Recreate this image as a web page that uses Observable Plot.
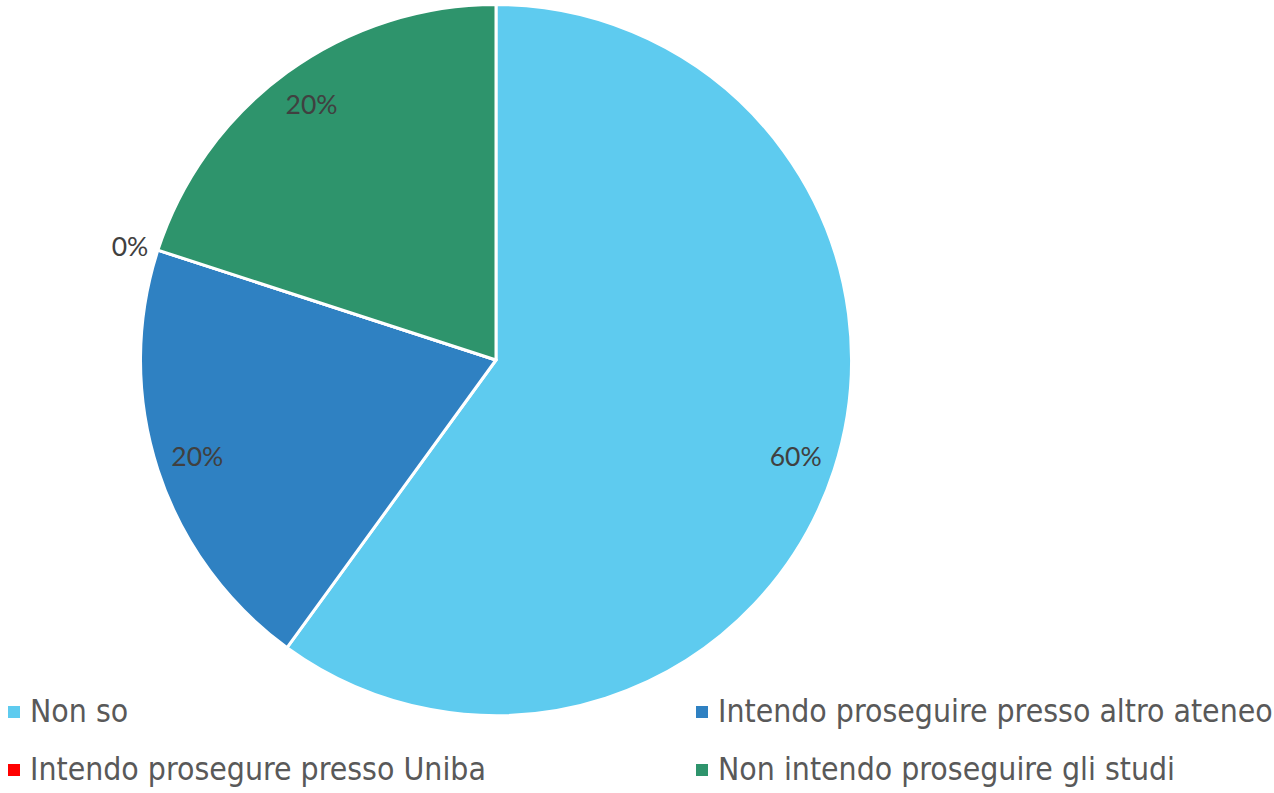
<!DOCTYPE html>
<html><head><meta charset="utf-8">
<script src="https://cdn.jsdelivr.net/npm/d3@7"></script>
<script src="https://cdn.jsdelivr.net/npm/@observablehq/plot@0.6"></script>
<style>
body{margin:0;background:#fff;}
#wrap{position:relative;width:1274px;height:793px;overflow:hidden;}
#wrap svg{position:absolute;left:0;top:0;}
.lg{position:absolute;display:flex;align-items:center;white-space:nowrap;
  font-family:"DejaVu Sans Condensed","DejaVu Sans",sans-serif;font-stretch:condensed;
  font-size:31.7px;color:#595959;line-height:1;}
.lg span.sw{display:inline-block;width:12px;height:12px;margin-right:10px;}
</style></head><body><div id="wrap"></div>
<script>
const categories = ["Non so","Intendo proseguire presso altro ateneo","Intendo prosegure presso Uniba","Non intendo proseguire gli studi"];
const values = [60, 20, 0, 20];
const labels = ["60%", "20%", "0%", "20%"];
const colors = ["#5ECBEF", "#2F81C2", "#FF0000", "#2E946C"];

const data = categories.map((c, i) => ({category: c, value: values[i], label: labels[i], color: colors[i]}));
const arcs = d3.pie().sort(null).value(d => d.value)(data);
const labelData = arcs.map(a => {
  const mid = (a.startAngle + a.endAngle) / 2;
  const k = a.data.value === 0 ? 1.03 : 0.885;
  return {...a.data, x: k * Math.sin(mid), y: k * Math.cos(mid), outside: a.data.value === 0};
});

function pieSlices(index, scales, values, dimensions, context) {
  const cx = scales.x(0), cy = scales.y(0);
  const r = scales.x(1) - scales.x(0);
  const arc = d3.arc().innerRadius(0).outerRadius(r);
  const g = d3.create("svg:g").attr("transform", `translate(${cx},${cy})`);
  g.selectAll("path").data(arcs).join("path")
    .attr("d", arc)
    .attr("fill", d => scales.color ? scales.color(d.data.category) : d.data.color)
    .attr("stroke", "#fff").attr("stroke-width", 3).attr("stroke-linejoin", "round");
  return g.node();
}

const labelFont = "Lato, 'Open Sans', sans-serif";
const chart = Plot.plot({
  width: 1274, height: 793,
  margin: 0,
  x: {domain: [-1, 1], range: [140.5, 851.5], axis: null},
  y: {domain: [-1, 1], range: [715.5, 4.5], axis: null},
  color: {domain: categories, range: colors},
  style: {background: "transparent"},
  marks: [
    pieSlices,
    Plot.text(labelData.filter(d => !d.outside), {x: "x", y: "y", text: "label", fill: "#404040",
      fontSize: 26.5, fontFamily: labelFont}),
    Plot.text(labelData.filter(d => d.outside), {x: "x", y: "y", text: "label", fill: "#404040",
      fontSize: 26.5, fontFamily: labelFont, textAnchor: "end"})
  ]
});
const wrap = document.getElementById("wrap");
wrap.appendChild(chart);

const legendPos = [[8, 712], [696, 712], [8, 770], [696, 770]];
categories.forEach((c, i) => {
  const d = document.createElement("div");
  d.className = "lg";
  d.style.left = legendPos[i][0] + "px";
  d.style.top = (legendPos[i][1] - 16) + "px";
  d.style.height = "32px";
  d.innerHTML = `<span class="sw" style="background:${colors[i]}"></span><span>${c}</span>`;
  wrap.appendChild(d);
});
</script></body></html>
